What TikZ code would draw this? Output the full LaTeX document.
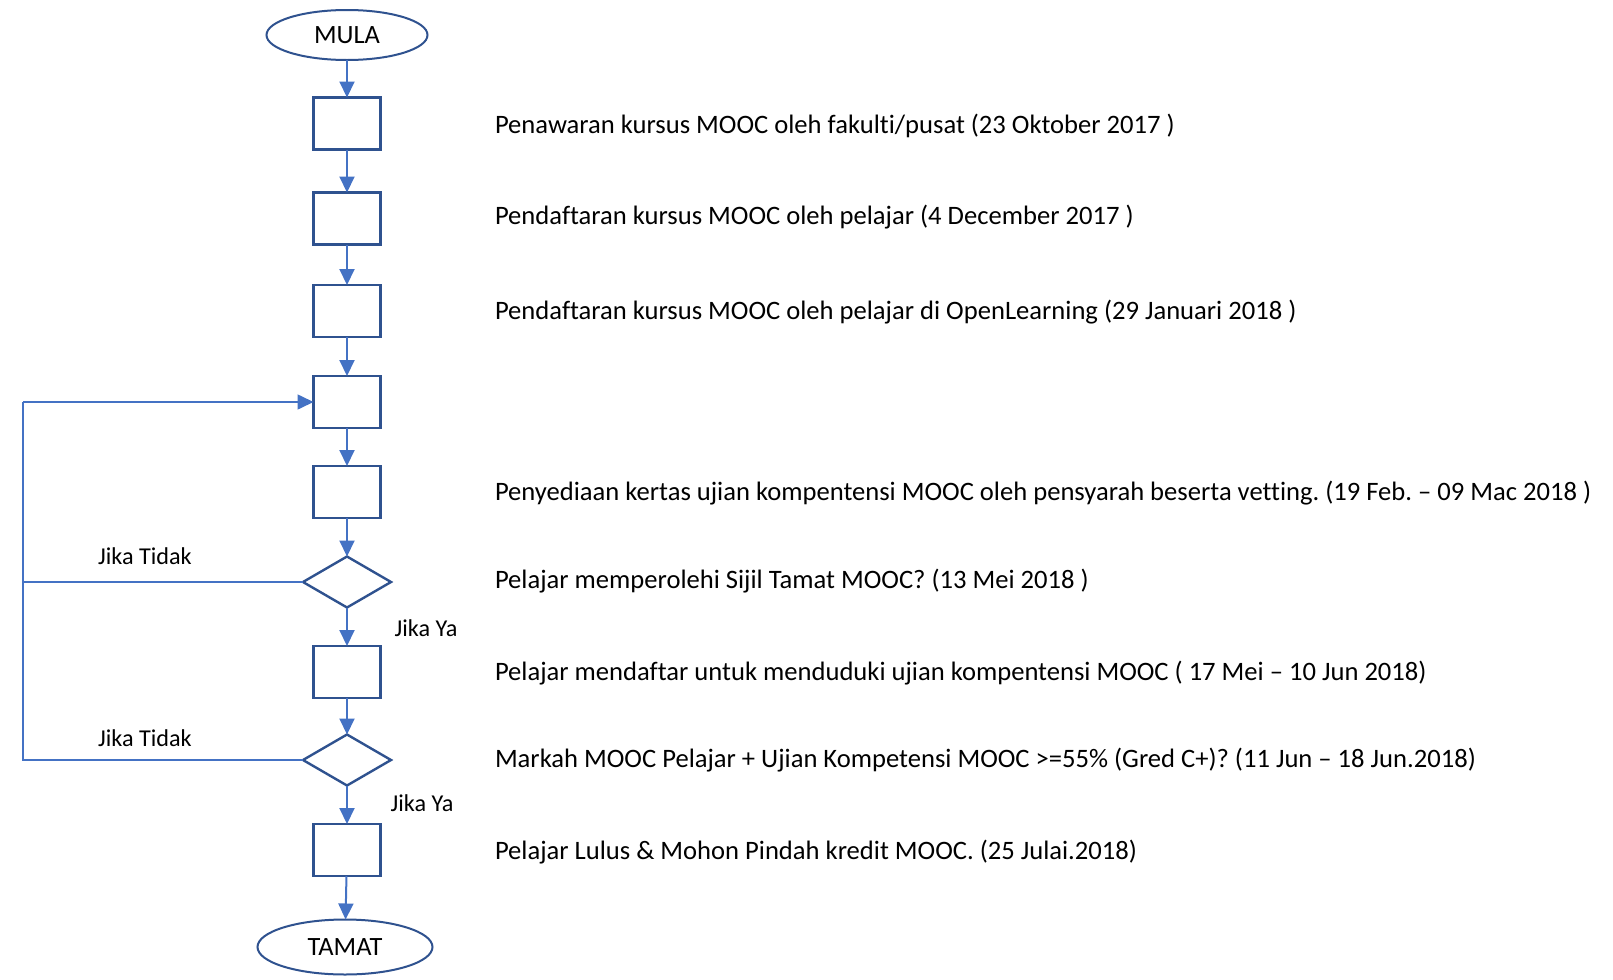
\documentclass[tikz,border=0pt]{standalone}
\usepackage{fontspec}
\setmainfont{Carlito}[Ligatures={TeX,NoCommon}]
\usepackage{tikz}
\usetikzlibrary{arrows.meta,shapes,positioning}
\frenchspacing

\definecolor{boxblue}{HTML}{2F528F}
\definecolor{lineblue}{HTML}{4472C4}

\begin{document}
\begin{tikzpicture}[x=0.5pt,y=-0.5pt,
  every node/.style={inner sep=0pt,outer sep=0pt},
  endnode/.style={draw=boxblue,ellipse,line width=1pt,font=\fontsize{13.2}{15}\selectfont},
  stepbox/.style={draw=boxblue,rectangle,line width=1.2pt,minimum width=33.5pt,minimum height=26pt},
  decnode/.style={draw=boxblue,diamond,line width=1.2pt,minimum width=44pt,minimum height=25.5pt},
  desc/.style={anchor=west,font=\fontsize{13.3}{15}\selectfont},
  ans/.style={font=\fontsize{12.1}{14}\selectfont},
  arr/.style={draw=lineblue,line width=1pt,-{Triangle[length=8pt,width=7.5pt]}},
  back/.style={draw=lineblue,line width=0.65pt},
]
\useasboundingbox (0,0) rectangle (1613,980);

% mula dan tamat
\node[endnode,minimum width=80.5pt,minimum height=25pt] (mula) at (347,35) {MULA};
\node[endnode,minimum width=87.5pt,minimum height=27.5pt] (tamat) at (345,947) {TAMAT};

% the steps
\foreach \n/\y in {s1/123.5,s2/218.5,s3/311,s4/402,s5/492,s6/672,s7/850}
\node[stepbox] (\n) at (347,\y) {};

% the decisions
\node[decnode] (q1) at (347,582) {};
\node[decnode] (q2) at (347,760) {};

% keterangan
\node[desc] (t1) at (495,125.5) {Penawaran kursus MOOC oleh fakulti/pusat (23 Oktober 2017 )};
\node[desc] (t2) at (495,217) {Pendaftaran kursus MOOC oleh pelajar (4 December 2017 )};
\node[desc] (t3) at (495,312) {Pendaftaran kursus MOOC oleh pelajar di OpenLearning (29 Januari 2018 )};
\node[desc] (t5) at (495,493) {Penyediaan kertas ujian kompentensi MOOC oleh pensyarah beserta vetting. (19 Feb. -- 09 Mac 2018 )};
\node[desc] (tq1) at (495,581) {Pelajar memperolehi Sijil Tamat MOOC? (13 Mei 2018 )};
\node[desc] (t6) at (495,673) {Pelajar mendaftar untuk menduduki ujian kompentensi MOOC ( 17 Mei -- 10 Jun 2018)};
\node[desc] (tq2) at (495,760) {Markah MOOC Pelajar + Ujian Kompetensi MOOC >=55\% (Gred C+)? (11 Jun -- 18 Jun.2018)};
\node[desc] (t7) at (495,852) {Pelajar Lulus \& Mohon Pindah kredit MOOC. (25 Julai.2018)};

% aliran utama
\foreach \a/\b in {mula/s1,s1/s2,s2/s3,s3/s4,s4/s5,s5/q1,q1/s6,s6/q2,q2/s7,s7/tamat}
\draw[arr] (\a) -- (\b);

% jika tidak
\coordinate (ret) at (23,402);
\draw[back] (q1.west) -- (q1.west -| ret);
\draw[back] (q2.west) -| (ret);
\draw[arr,line width=0.8pt] (ret) -- (s4.west);

\node[ans] (no1) at (145,556) {Jika Tidak};
\node[ans] (no2) at (145,738) {Jika Tidak};
\node[ans] (yes1) at (426,628) {Jika Ya};
\node[ans] (yes2) at (422,803) {Jika Ya};
\end{tikzpicture}
\end{document}
